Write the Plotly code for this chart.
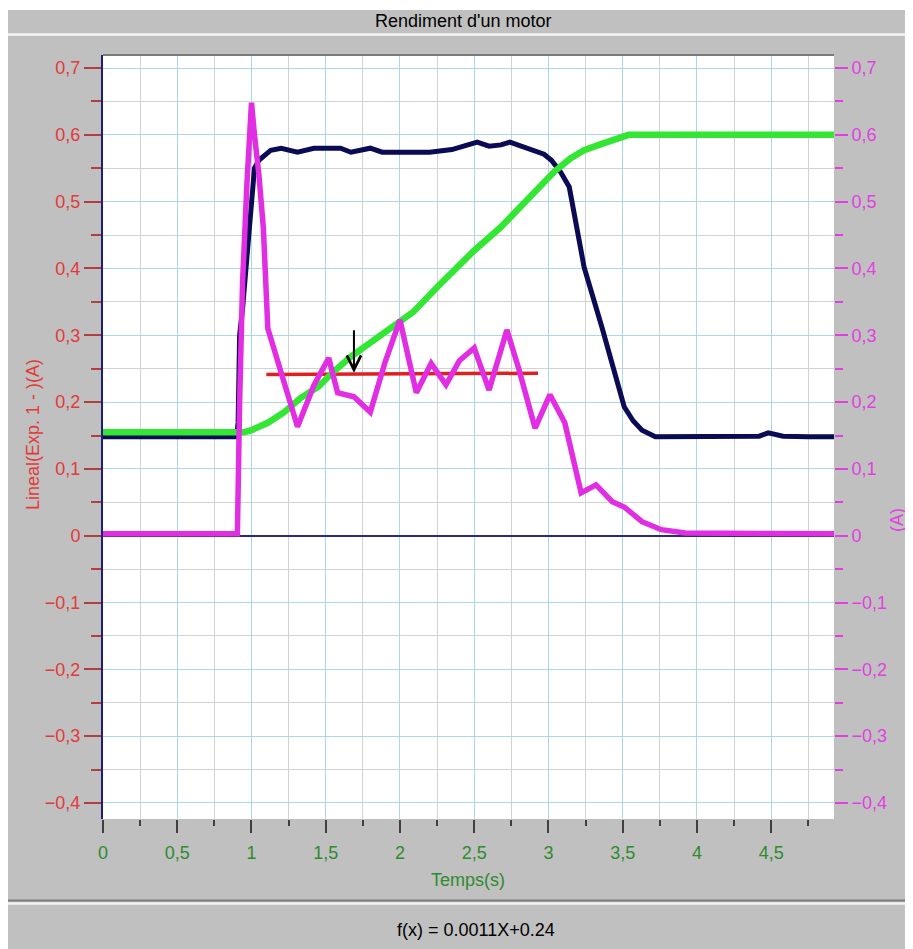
import plotly.graph_objects as go

# ---------------- data ----------------
navy_t = [0, 0.90, 0.91, 0.92, 0.94, 0.97, 1.00, 1.02, 1.05, 1.13, 1.20, 1.31, 1.42, 1.60, 1.67,
          1.80, 1.88, 2.00, 2.20, 2.35, 2.45, 2.52, 2.60, 2.68, 2.74, 2.82, 2.90, 2.97, 3.02,
          3.08, 3.14, 3.24, 3.36, 3.47, 3.51, 3.57, 3.63, 3.72, 3.90, 4.20, 4.42, 4.48, 4.53,
          4.58, 4.75, 4.923]
navy_y = [0.148, 0.148, 0.17, 0.30, 0.34, 0.42, 0.50, 0.55, 0.562, 0.577, 0.580, 0.574, 0.580,
          0.580, 0.574, 0.580, 0.574, 0.574, 0.574, 0.578, 0.584, 0.589, 0.583, 0.585, 0.589,
          0.583, 0.576, 0.571, 0.562, 0.545, 0.522, 0.402, 0.312, 0.229, 0.193, 0.172, 0.158,
          0.148, 0.148, 0.148, 0.149, 0.154, 0.152, 0.149, 0.148, 0.148]

green_t = [0, 0.95, 1.00, 1.11, 1.22, 1.33, 1.45, 1.55, 1.67, 1.78, 1.89, 2.00, 2.09, 2.25,
           2.50, 2.68, 2.85, 3.04, 3.15, 3.24, 3.34, 3.43, 3.54, 4.923]
green_y = [0.155, 0.155, 0.158, 0.169, 0.185, 0.206, 0.223, 0.245, 0.268, 0.286, 0.303, 0.320,
           0.335, 0.372, 0.427, 0.462, 0.500, 0.545, 0.565, 0.577, 0.585, 0.591, 0.600, 0.600]

magenta_t = [0, 0.905, 0.92, 0.94, 0.97, 1.00, 1.02, 1.05, 1.08, 1.095, 1.11, 1.31, 1.42, 1.52,
             1.58, 1.69, 1.80, 1.90, 2.00, 2.11, 2.21, 2.31, 2.40, 2.50, 2.60, 2.72, 2.80, 2.91,
             3.01, 3.11, 3.22, 3.32, 3.43, 3.51, 3.63, 3.76, 3.92, 4.923]
magenta_y = [0.003, 0.003, 0.20, 0.38, 0.53, 0.648, 0.60, 0.54, 0.46, 0.38, 0.31, 0.163, 0.225,
             0.266, 0.214, 0.208, 0.185, 0.260, 0.323, 0.214, 0.258, 0.226, 0.262, 0.281, 0.218,
             0.308, 0.250, 0.161, 0.211, 0.169, 0.064, 0.076, 0.051, 0.043, 0.021, 0.009, 0.004,
             0.003]

fit_t = [1.10, 2.93]
fit_y = [0.2412, 0.2432]

cursor_t = 1.69
cursor_y = 0.244

x_ticks = [0, 0.5, 1, 1.5, 2, 2.5, 3, 3.5, 4, 4.5]
y_ticks = [0.7, 0.6, 0.5, 0.4, 0.3, 0.2, 0.1, 0, -0.1, -0.2, -0.3, -0.4]

title_text = "Rendiment d'un motor"
x_title = "Temps(s)"
y_title = "Lineal(Exp. 1 - )(A)"
y2_title = "(A)"
formula_text = "f(x) = 0.0011X+0.24"

# ---------------- layout constants ----------------
# the page body has an 8px margin, so the figure starts at (8, 8) of the window
OFF = 8
FW, FH = 913 - OFF, 949 - OFF


def px(x):
    return (x - OFF) / FW


def py(y):
    return 1 - (y - OFF) / FH


X_DOM = [px(103), px(834)]
Y_DOM = [py(819), py(55)]
X_RANGE = [0, 4.923]
Y_RANGE = [-0.424, 0.7195]

FONT = "Liberation Sans, Arial, sans-serif"
FS = 18
RED = "#e23a3a"
MAG = "#e040e0"
GRN = "#2e8b2e"
NAVY = "#0b0b55"
BG = "#c0c0c0"

fig = go.Figure()

fig.add_trace(go.Scatter(x=fit_t, y=fit_y, mode="lines", line=dict(color="#e02020", width=3.5),
                         xaxis="x", yaxis="y", hoverinfo="skip"))
fig.add_trace(go.Scatter(x=navy_t, y=navy_y, mode="lines", line=dict(color=NAVY, width=5),
                         xaxis="x", yaxis="y"))
fig.add_trace(go.Scatter(x=magenta_t, y=magenta_y, mode="lines", line=dict(color="#e22ee2", width=5.5),
                         xaxis="x", yaxis="y2"))
fig.add_trace(go.Scatter(x=green_t, y=green_y, mode="lines", line=dict(color="#33e633", width=6.5),
                         xaxis="x", yaxis="y"))

fig.update_layout(
    width=FW, height=FH,
    margin=dict(l=0, r=0, t=0, b=0, pad=0),
    paper_bgcolor=BG,
    plot_bgcolor="white",
    showlegend=False,
    separators=", ",
    font=dict(family=FONT, size=FS),
    xaxis=dict(
        domain=X_DOM, range=X_RANGE, tickvals=x_ticks, automargin=False,
        showgrid=True, gridcolor="#aad8ea", gridwidth=1,
        zeroline=False, showline=False,
        ticks="outside", ticklen=13, tickwidth=1.5, tickcolor="#404040",
        ticklabelstandoff=4,
        tickfont=dict(color=GRN, size=FS, family=FONT),
        minor=dict(dtick=0.25, tick0=0, ticks="outside", ticklen=6, tickwidth=1.5,
                   tickcolor="#404040", showgrid=True, gridcolor="#d2d2d2", gridwidth=1),
    ),
    yaxis=dict(
        domain=Y_DOM, range=Y_RANGE, tickvals=y_ticks, automargin=False,
        showgrid=True, gridcolor="#aad8ea", gridwidth=1,
        zeroline=True, zerolinecolor="#2a2a80", zerolinewidth=1.5,
        showline=True, linecolor="#1e1e78", linewidth=2,
        ticks="outside", ticklen=17, tickwidth=1.5, tickcolor="#b04040",
        tickfont=dict(color=RED, size=FS, family=FONT),
        minor=dict(dtick=0.05, tick0=0, ticks="outside", ticklen=10, tickwidth=1.5,
                   tickcolor="#b04040", showgrid=True, gridcolor="#d2d2d2", gridwidth=1),
    ),
    yaxis2=dict(
        overlaying="y", side="right", anchor="x", range=Y_RANGE, tickvals=y_ticks,
        automargin=False, showgrid=False, zeroline=False, showline=False,
        ticks="outside", ticklen=13, tickwidth=1.5, tickcolor=MAG,
        tickfont=dict(color=MAG, size=FS, family=FONT),
        minor=dict(dtick=0.05, tick0=0, ticks="outside", ticklen=8, tickwidth=1.5,
                   tickcolor=MAG, showgrid=False),
    ),
    shapes=[
        dict(type="rect", xref="paper", yref="paper", x0=0, x1=1, y0=py(10), y1=1,
             fillcolor="white", line=dict(width=0), layer="below"),
        dict(type="line", xref="paper", yref="paper", x0=0, x1=1, y0=py(34.5), y1=py(34.5),
             line=dict(color="#f4f4f4", width=2.5), layer="below"),
        dict(type="line", xref="paper", yref="paper", x0=0, x1=1, y0=py(900.5), y1=py(900.5),
             line=dict(color="#7c7c7c", width=2), layer="below"),
        dict(type="line", xref="paper", yref="paper", x0=0, x1=1, y0=py(903.5), y1=py(903.5),
             line=dict(color="#f4f4f4", width=2.5), layer="below"),
        dict(type="line", xref="paper", yref="paper", x0=X_DOM[0], x1=X_DOM[1], y0=Y_DOM[1], y1=Y_DOM[1],
             line=dict(color="#7a7a7a", width=2), layer="above"),
    ],
    annotations=[
        dict(text=title_text, xref="paper", yref="paper", x=px(463), y=py(21),
             showarrow=False, font=dict(color="black", size=FS, family=FONT),
             xanchor="center", yanchor="middle"),
        dict(text=x_title, xref="paper", yref="paper", x=px(468), y=py(880),
             showarrow=False, font=dict(color=GRN, size=FS, family=FONT),
             xanchor="center", yanchor="middle"),
        dict(text=y_title, xref="paper", yref="paper", x=px(33), y=py(435), textangle=-90,
             showarrow=False, font=dict(color=RED, size=FS, family=FONT),
             xanchor="center", yanchor="middle"),
        dict(text=y2_title, xref="paper", yref="paper", x=px(897), y=py(520), textangle=-90,
             showarrow=False, font=dict(color=MAG, size=FS, family=FONT),
             xanchor="center", yanchor="middle"),
        dict(text=formula_text, xref="paper", yref="paper", x=px(476), y=py(930),
             showarrow=False, font=dict(color="black", size=FS, family=FONT),
             xanchor="center", yanchor="middle"),
        dict(text="", xref="x", yref="y", x=cursor_t, y=cursor_y, ax=0, ay=-44,
             showarrow=True, arrowhead=5, arrowsize=1.4, arrowwidth=2, arrowcolor="black",
             standoff=0),
    ],
)

fig.write_html("out.html", config={"displayModeBar": False})
